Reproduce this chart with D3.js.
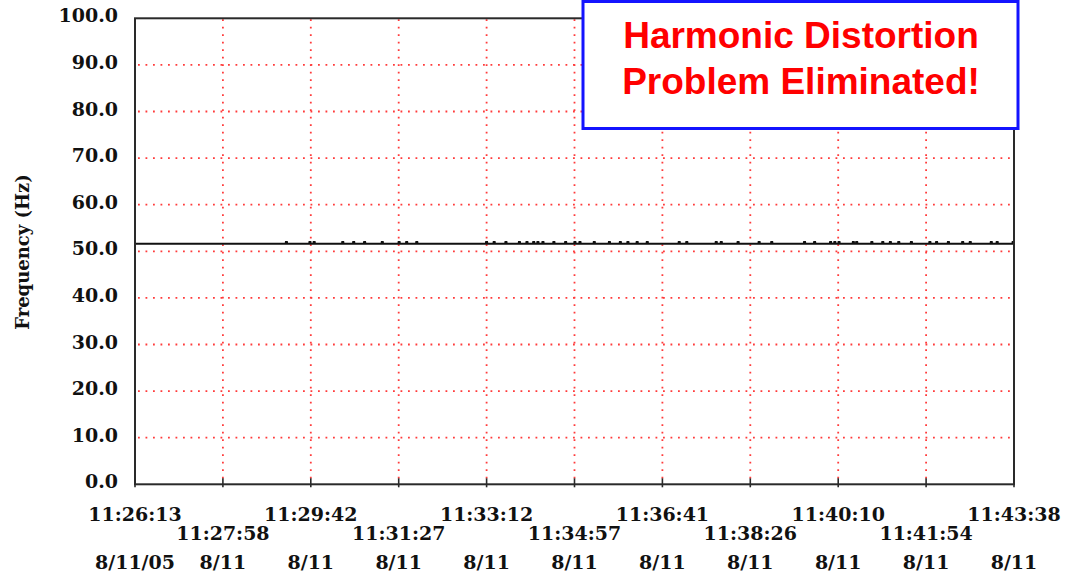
<!DOCTYPE html>
<html><head><meta charset="utf-8">
<script src="https://cdn.jsdelivr.net/npm/d3@7"></script>
<style>body{margin:0;background:#fff}svg{display:block}</style>
</head><body><svg id="c" width="1079" height="577"></svg>
<script>
// ---- data ----
const yTicks = [0,10,20,30,40,50,60,70,80,90,100];
const timeLabels = ["11:26:13","11:27:58","11:29:42","11:31:27","11:33:12","11:34:57","11:36:41","11:38:26","11:40:10","11:41:54","11:43:38"];
const dateLabels = ["8/11/05","8/11","8/11","8/11","8/11","8/11","8/11","8/11","8/11","8/11","8/11"];
const baseFrequency = 51.6;   // Hz, steady reading
const spikeFrequency = 52.0;  // Hz, small blips
// seconds after 11:26:13 at which short blips occur
const spikeSeconds = [180,208,213,247,260,273,294,314,323,335,418,427,441,457,466,474,479,485,498,512,523,529,546,564,577,586,597,609,647,656,691,697,717,742,757,796,808,827,832,837,854,858,876,889,898,908,923,945,953,967,984,993,1018,1025,1044];
const titleLines = ["Harmonic Distortion","Problem Eliminated!"];

// ---- helpers ----
const toSec = s => { const [h,m,x] = s.split(":").map(Number); return h*3600+m*60+x; };
const t0 = toSec(timeLabels[0]);
const tEnd = toSec(timeLabels[timeLabels.length-1]) - t0;
const tickSecs = timeLabels.map((s,i)=> i*tEnd/(timeLabels.length-1));

const svg = d3.select("#c");
const L=135, R=1014, T=18.3, B=484.3;
const x = d3.scaleLinear().domain([0,tEnd]).range([L,R]);
const y = d3.scaleLinear().domain([0,100]).range([B,T]);
const serif = "DejaVu Serif";
const fs = 19;

// grid
const grid = svg.append("g").attr("stroke","#ff3b3b").attr("stroke-width",1.8).attr("stroke-dasharray","1.8,5.7");
grid.selectAll("line.h").data(yTicks.filter(v=>v>0&&v<100)).enter().append("line")
  .attr("x1",L+3).attr("x2",R).attr("y1",d=>y(d)).attr("y2",d=>y(d));
grid.selectAll("line.v").data(tickSecs.slice(1,-1)).enter().append("line")
  .attr("x1",d=>x(d)).attr("x2",d=>x(d)).attr("y1",T+1).attr("y2",B);

// data line
const pts = [[0,baseFrequency]];
spikeSeconds.forEach(s=>{ pts.push([s-1,baseFrequency],[s-0.6,spikeFrequency],[s+0.6,spikeFrequency],[s+1,baseFrequency]); });
pts.push([tEnd,baseFrequency]);
svg.append("path").datum(pts).attr("fill","none").attr("stroke","#111").attr("stroke-width",2)
  .attr("d",d3.line().x(d=>x(Math.max(0,Math.min(tEnd,d[0])))).y(d=>y(d[1])));

// frame
svg.append("rect").attr("x",L).attr("y",T).attr("width",R-L).attr("height",B-T)
  .attr("fill","none").attr("stroke","#2a2a2a").attr("stroke-width",2);

// bottom ticks
svg.append("g").selectAll("line").data(tickSecs).enter().append("line")
  .attr("x1",d=>x(d)).attr("x2",d=>x(d)).attr("y1",B-6).attr("y2",B+3)
  .attr("stroke","#2a2a2a").attr("stroke-width",1.6);

// y labels
svg.append("g").selectAll("text").data(yTicks).enter().append("text")
  .attr("x",118).attr("y",d=>y(d)-2.5).attr("dy","0.35em").attr("text-anchor","end")
  .attr("font-family",serif).attr("font-weight","bold").attr("font-size",fs).attr("fill","#111")
  .text(d=>d.toFixed(1));

// x labels
svg.append("g").selectAll("text").data(timeLabels).enter().append("text")
  .attr("x",(d,i)=>x(tickSecs[i])).attr("y",(d,i)=> i%2===0 ? 514 : 533).attr("dy","0.35em")
  .attr("text-anchor","middle").attr("font-family",serif).attr("font-weight","bold").attr("font-size",fs).attr("fill","#111")
  .text(d=>d);
svg.append("g").selectAll("text").data(dateLabels).enter().append("text")
  .attr("x",(d,i)=>x(tickSecs[i])).attr("y",562).attr("dy","0.35em")
  .attr("text-anchor","middle").attr("font-family",serif).attr("font-weight","bold").attr("font-size",fs).attr("fill","#111")
  .text(d=>d);

// y title
svg.append("text").attr("transform","translate(29,252) rotate(-90)").attr("text-anchor","middle")
  .attr("font-family",serif).attr("font-weight","bold").attr("font-size",18).attr("fill","#111")
  .text("Frequency (Hz)");

// annotation box
svg.append("rect").attr("x",583).attr("y",1.5).attr("width",435).attr("height",127)
  .attr("fill","#fff").attr("stroke","#1414ff").attr("stroke-width",3);
svg.append("g").selectAll("text").data(titleLines).enter().append("text")
  .attr("x",801).attr("y",(d,i)=>48+i*46).attr("text-anchor","middle")
  .attr("font-family","Liberation Sans, Arial, sans-serif").attr("font-weight","bold").attr("font-size",37).attr("fill","#ff0000")
  .text(d=>d);
</script></body></html>
